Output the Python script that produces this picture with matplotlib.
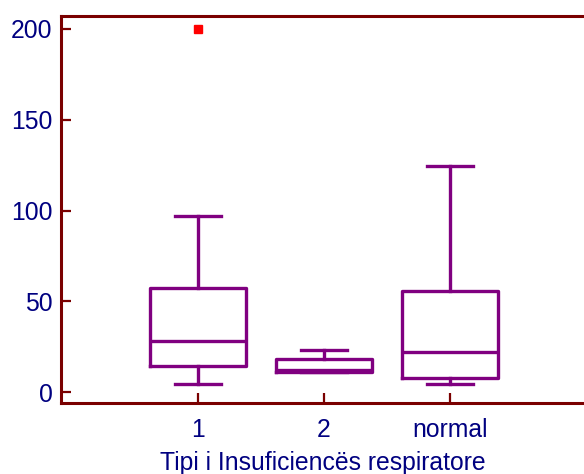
import matplotlib.pyplot as plt

# group labels and box statistics
groups = ['1', '2', 'normal']
q1 = [14.5, 11.0, 8.0]
medians = [28.5, 12.5, 22.0]
q3 = [57.5, 18.3, 55.8]
whis_lo = [4.5, 11.0, 4.5]
whis_hi = [97.0, 23.4, 124.5]
outliers = [[199.5], [], []]

plt.rcParams['font.family'] = ['Liberation Sans', 'DejaVu Sans']

box_col = '#800080'
axis_col = '#7a0000'
text_col = '#000080'

stats = []
for i in range(len(groups)):
    stats.append({'label': groups[i], 'q1': q1[i], 'med': medians[i], 'q3': q3[i],
                  'whislo': whis_lo[i], 'whishi': whis_hi[i], 'fliers': outliers[i]})

fig = plt.figure(figsize=(5.84, 4.74), dpi=100)
ax = fig.add_axes([61 / 584, 1 - 403 / 474, 1 - 61 / 584, (403 - 16) / 474])

line = dict(color=box_col, linewidth=2.4)
ax.bxp(stats, positions=[1, 2, 3], widths=0.76, capwidths=0.37,
       boxprops=line, whiskerprops=line, capprops=line, medianprops=line,
       flierprops=dict(marker='s', markersize=5.5, markerfacecolor='red',
                       markeredgecolor='red'))

ax.set_xlim(-0.087, 4.063)
ax.set_ylim(-5.8, 206.9)
ax.set_yticks([0, 50, 100, 150, 200])

for s in ['left', 'bottom', 'top']:
    ax.spines[s].set_color(axis_col)
    ax.spines[s].set_linewidth(2.2)
ax.spines['right'].set_visible(False)

ax.tick_params(direction='in', length=7.5, width=1.6, color=axis_col,
               labelcolor=text_col, labelsize=17.8, pad=6)
ax.tick_params(axis='x', pad=10.5)
ax.set_xlabel('Tipi i Insuficiencës respiratore', color=text_col, fontsize=17.8, labelpad=7)

fig.savefig('out.png', dpi=100)
